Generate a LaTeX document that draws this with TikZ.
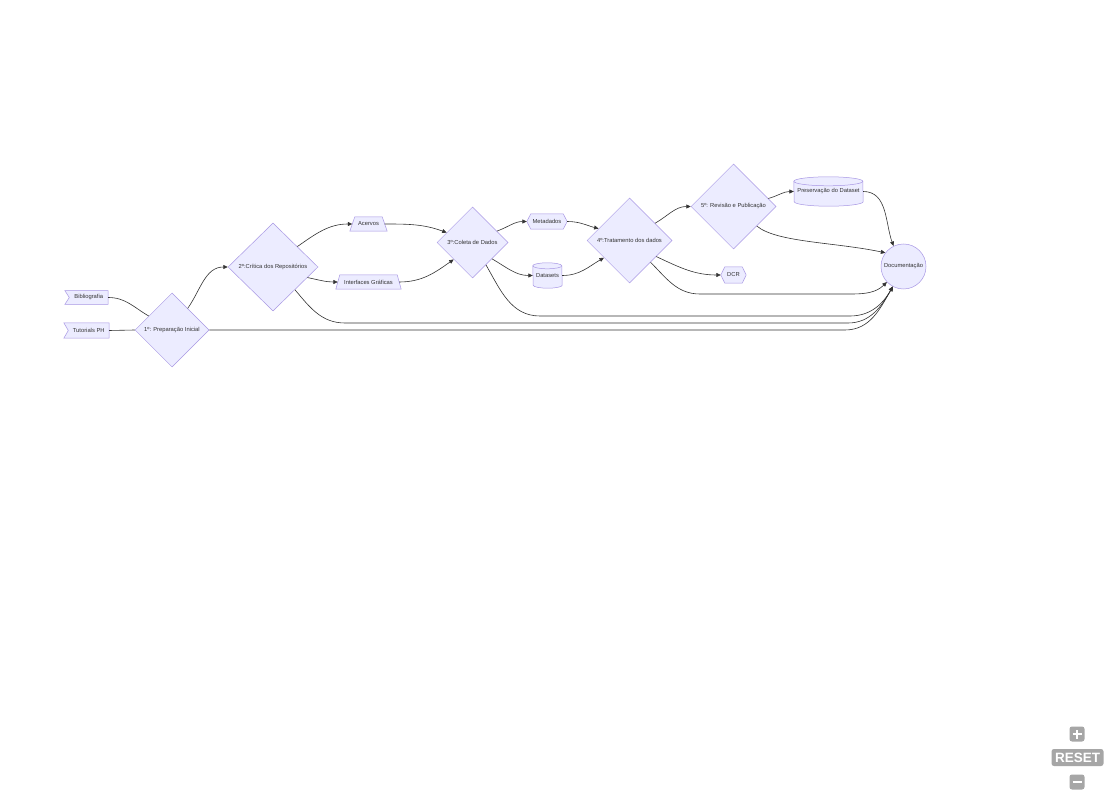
\documentclass[tikz,border=0pt]{standalone}
\usepackage{fontspec}
\setmainfont{Liberation Sans}
\usetikzlibrary{shapes.geometric,arrows.meta,backgrounds}
\definecolor{nfill}{HTML}{ECECFF}
\definecolor{nline}{HTML}{A897E4}
\definecolor{eline}{HTML}{333333}
\definecolor{txt}{HTML}{333333}
\definecolor{btn}{HTML}{A6A6A6}
\begin{document}
\begin{tikzpicture}[x=1pt,y=1pt,
  every node/.style={font=\fontsize{5.8}{7}\selectfont, text=txt},
  box/.style={inner sep=0pt, draw=none},
  shp/.style={fill=nfill, draw=nline, line width=0.5pt},
  dia/.style={diamond, shp, inner sep=0pt, aspect=1},
  edge/.style={draw=eline, line width=0.6pt},
  arr/.style={edge, -{Triangle[length=4.5pt,width=4pt]}},
  btnbox/.style={fill=btn, rounded corners=2.5pt, inner sep=0pt},
  ]
\useasboundingbox (0,0) rectangle (1116,-799);

% nodes
\node[box, minimum width=38.5pt, minimum height=13.5pt] (bib) at (88.75,-297.5) {Bibliografia};
\node[box, minimum width=40.5pt, minimum height=15pt] (tut) at (88.75,-330.5) {Tutorials PH};
\node[dia, minimum width=74pt, minimum height=74pt] (d1) at (172,-330) {1º: Preparação Inicial};
\node[dia, minimum width=90pt, minimum height=88pt] (d2) at (273,-267) {2º:Crítica dos Repositórios};
\node[box, minimum width=37pt, minimum height=14pt] (acv) at (368.5,-224) {Acervos};
\node[box, minimum width=65pt, minimum height=14pt] (igr) at (368.5,-282) {Interfaces Gráficas};
\node[dia, minimum width=71pt, minimum height=71pt] (d3) at (472.5,-242.5) {3º:Coleta de Dados};
\node[box, minimum width=40pt, minimum height=15pt] (meta) at (547,-221.5) {Metadados};
\node[box, minimum width=29pt, minimum height=25pt] (dset) at (547.5,-275.5) {Datasets};
\node[dia, minimum width=85pt, minimum height=85pt] (d4) at (629.5,-240.5) {4º:Tratamento dos dados};
\node[dia, minimum width=85pt, minimum height=85pt] (d5) at (733.5,-206.5) {5º: Revisão e Publicação};
\node[box, minimum width=69pt, minimum height=29pt] (pres) at (828.5,-191.5) {Preservação do Dataset};
\node[box, minimum width=25pt, minimum height=16pt] (dcr) at (733.5,-275) {DCR};
\node[circle, shp, inner sep=0pt, minimum size=45pt] (doc) at (903.5,-266.5) {Documentação};

% shapes drawn behind the text-only nodes
\begin{scope}[on background layer]
  \fill[white] (0,0) rectangle (1116,-799);
  \draw[shp] ([xshift=-4.5pt]bib.north west) -- (bib.north east) -- (bib.south east) -- ([xshift=-4.5pt]bib.south west) -- (bib.west) -- cycle;
  \draw[shp] ([xshift=-4.5pt]tut.north west) -- (tut.north east) -- (tut.south east) -- ([xshift=-4.5pt]tut.south west) -- (tut.west) -- cycle;
  \draw[shp] (acv.south west) -- (acv.south east) -- ([xshift=-5pt]acv.north east) -- ([xshift=5pt]acv.north west) -- cycle;
  \draw[shp] (igr.south west) -- (igr.south east) -- ([xshift=-4pt]igr.north east) -- ([xshift=4pt]igr.north west) -- cycle;
  \draw[shp] (meta.west) -- ([xshift=4pt]meta.north west) -- ([xshift=-4pt]meta.north east) -- (meta.east) -- ([xshift=-4pt]meta.south east) -- ([xshift=4pt]meta.south west) -- cycle;
  \draw[shp] (dcr.west) -- ([xshift=4pt]dcr.north west) -- ([xshift=-4pt]dcr.north east) -- (dcr.east) -- ([xshift=-4pt]dcr.south east) -- ([xshift=4pt]dcr.south west) -- cycle;
  \draw[shp] ([yshift=-3pt]dset.north west) arc[start angle=180,end angle=0,x radius=14.5pt,y radius=3pt] -- ([yshift=3pt]dset.south east) arc[start angle=0,end angle=-180,x radius=14.5pt,y radius=3pt] -- cycle;
  \draw[shp, fill=none] ([yshift=-3pt]dset.north west) arc[start angle=180,end angle=360,x radius=14.5pt,y radius=3pt];
  \draw[shp] ([yshift=-4.5pt]pres.north west) arc[start angle=180,end angle=0,x radius=34.5pt,y radius=4.5pt] -- ([yshift=4.5pt]pres.south east) arc[start angle=0,end angle=-180,x radius=34.5pt,y radius=4.5pt] -- cycle;
  \draw[shp, fill=none] ([yshift=-4.5pt]pres.north west) arc[start angle=180,end angle=360,x radius=34.5pt,y radius=4.5pt];
\end{scope}

% waypoints
\coordinate (w6a) at (345,-323);
\coordinate (w6b) at (848,-323);
\coordinate (w11a) at (540,-316);
\coordinate (w11b) at (850,-316);
\coordinate (w16a) at (700,-294);
\coordinate (w16b) at (852,-294);
\coordinate (w20) at (845,-330);

% connectors
\draw[edge] (bib.east) to[out=0,in=150] (d1.149);
\draw[edge] (tut.east) -- (d1.west);
\draw[arr] (d1.54) to[out=55,in=180] (d2.west);
\draw[arr] (d2.40) to[out=35,in=180] ([xshift=2.5pt]acv.west);
\draw[arr] (d2.-17) to[out=-12,in=180] ([xshift=2pt]igr.west);
\draw[arr] (d2.-46) to[out=-50,in=180] (w6a) -- (w6b) to[out=0,in=240] (doc.-118);
\draw[arr] ([xshift=-2.5pt]acv.east) to[out=0,in=160] (d3.159);
\draw[arr] ([xshift=-2pt]igr.east) to[out=0,in=215] (d3.222);
\draw[arr] (d3.25) to[out=20,in=180] (meta.west);
\draw[arr] (d3.-40) to[out=-30,in=180] (dset.west);
\draw[arr] (d3.-59) to[out=-60,in=180] (w11a) -- (w11b) to[out=0,in=240] (doc.-118);
\draw[arr] (meta.east) to[out=0,in=165] (d4.159);
\draw[arr] (dset.east) to[out=0,in=210] (d4.214);
\draw[arr] (d4.34) to[out=30,in=180] (d5.west);
\draw[arr] (d4.-31) to[out=-25,in=180] (dcr.west);
\draw[arr] (d4.-46) to[out=-45,in=180] (w16a) -- (w16b) to[out=0,in=225] (doc.-137);
\draw[arr] (d5.13) to[out=15,in=180] (pres.west);
\draw[arr] (d5.-40) to[out=-40,in=168,out looseness=0.5] (doc.143);
\draw[arr] (pres.east) to[out=0,in=110] (doc.116);
\draw[arr] (d1.east) -- (w20) to[out=0,in=240] (doc.-118);

% zoom controls
\node[btnbox, minimum size=15pt] (zin) at (1077,-734) {};
\draw[white, line width=2.6pt] ([xshift=-4.5pt]zin.center) -- ([xshift=4.5pt]zin.center);
\draw[white, line width=2.6pt] ([yshift=-4.5pt]zin.center) -- ([yshift=4.5pt]zin.center);
\node[btnbox, minimum width=52pt, minimum height=17pt, text=white, font=\fontsize{13.5}{14}\selectfont\bfseries] (rst) at (1077.5,-757.5) {RESET};
\node[btnbox, minimum size=15pt] (zout) at (1077,-782) {};
\draw[white, line width=2.6pt] ([xshift=-4.5pt]zout.center) -- ([xshift=4.5pt]zout.center);
\end{tikzpicture}
\end{document}
